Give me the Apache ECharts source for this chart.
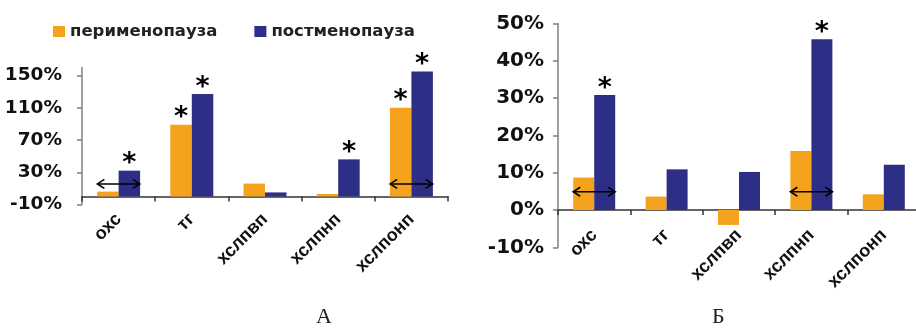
<!DOCTYPE html>
<html>
<head>
<meta charset="utf-8">
<script src="https://cdn.jsdelivr.net/npm/echarts@6/dist/echarts.min.js"></script>
<style>
  html, body { margin: 0; padding: 0; background: #fff; }
  #chart { width: 916px; height: 329px; }
</style>
</head>
<body>
<div id="chart"></div>
<script>
// Lipid indices, relative change (%)
const categories = ['охс', 'тг', 'хслпвп', 'хслпнп', 'хслпонп'];
const seriesNames = ['перименопауза', 'постменопауза'];

// Panel А
const leftPeri = [6, 89, 16, 3, 110];
const leftPost = [32, 127, 5, 46, 155];
const leftPeriSig = [false, true, false, false, true];
const leftPostSig = [true, true, false, true, true];
const leftArrows = [['охс', 15.5], ['хслпонп', 15.5]];
const leftTicks = { min: -10, max: 160, interval: 40 };

// Panel Б
const rightPeri = [8.7, 3.6, -4.0, 15.8, 4.2];
const rightPost = [30.8, 10.9, 10.2, 45.8, 12.1];
const rightPeriSig = [false, false, false, false, false];
const rightPostSig = [true, false, false, true, false];
const rightArrows = [['охс', 4.9], ['хслпнп', 4.9]];
const rightTicks = { min: -10, max: 50, interval: 10 };

const panelTitles = ['А', 'Б'];

const ORANGE = '#F5A21D';
const NAVY = '#2D2F86';
const tickFont = 'DejaVu Sans';
const catFont = 'Liberation Sans';

function starLabel(flags) {
  return {
    show: true,
    position: 'top',
    distance: -7,
    fontFamily: tickFont,
    fontWeight: 'bold',
    fontSize: 27,
    color: '#000',
    formatter: p => (flags[p.dataIndex] ? '*' : '')
  };
}

function arrowItem(params, api) {
  const c = api.coord([api.value(0), api.value(1)]);
  const half = api.size([1, 0])[0] * 0.29;
  const x0 = c[0] - half, x1 = c[0] + half, y = c[1];
  const style = { stroke: '#000', lineWidth: 1.6, fill: null };
  return {
    type: 'group',
    children: [
      { type: 'line', shape: { x1: x0, y1: y, x2: x1, y2: y }, style },
      { type: 'polyline', shape: { points: [[x0 + 7, y - 4.5], [x0, y], [x0 + 7, y + 4.5]] }, style },
      { type: 'polyline', shape: { points: [[x1 - 7, y - 4.5], [x1, y], [x1 - 7, y + 4.5]] }, style }
    ]
  };
}

function xAxisFor(gridIndex, fontSize, margin) {
  return {
    type: 'category',
    gridIndex,
    data: categories,
    axisLine: { onZero: true, lineStyle: { color: '#333', width: 1.5 } },
    axisTick: { show: true, length: 5, lineStyle: { color: '#333', width: 1.5 } },
    axisLabel: {
      interval: 0,
      rotate: 45,
      margin,
      fontFamily: catFont,
      fontWeight: 'bold',
      fontSize,
      color: '#111'
    }
  };
}

function yAxisFor(gridIndex, ticks, fontSize, margin) {
  return {
    type: 'value',
    gridIndex,
    min: ticks.min,
    max: ticks.max,
    interval: ticks.interval,
    splitLine: { show: false },
    axisLine: { show: true, lineStyle: { color: '#7f7f7f', width: 1.5 } },
    axisTick: { show: true, length: 5, lineStyle: { color: '#7f7f7f', width: 1.5 } },
    axisLabel: {
      margin,
      showMaxLabel: ticks.max % ticks.interval === (ticks.min % ticks.interval),
      fontFamily: tickFont,
      fontWeight: 'bold',
      fontSize,
      color: '#111',
      formatter: v => v + '%'
    }
  };
}

function barSeries(name, data, color, axisIndex, width, flags) {
  return {
    name,
    type: 'bar',
    xAxisIndex: axisIndex,
    yAxisIndex: axisIndex,
    data,
    barWidth: width,
    barGap: '0%',
    itemStyle: { color },
    label: starLabel(flags)
  };
}

const chart = echarts.init(document.getElementById('chart'), null, { renderer: 'canvas' });

chart.setOption({
  animation: false,
  backgroundColor: '#fff',
  legend: {
    data: seriesNames,
    left: 53,
    top: 23,
    padding: 0,
    itemWidth: 12,
    itemHeight: 11,
    itemGap: 37,
    icon: 'rect',
    textStyle: { fontFamily: tickFont, fontWeight: 'bold', fontSize: 16.5, color: '#222' }
  },
  grid: [
    { left: 82, right: 468, top: 67.5, bottom: 124.5, outerBoundsMode: 'none', containLabel: false },
    { left: 558, right: -4, top: 23.5, bottom: 81.7, outerBoundsMode: 'none', containLabel: false }
  ],
  xAxis: [xAxisFor(0, 18, 12), xAxisFor(1, 18, -15)],
  yAxis: [yAxisFor(0, leftTicks, 18.5, 20), yAxisFor(1, rightTicks, 20, 14)],
  series: [
    barSeries(seriesNames[0], leftPeri, ORANGE, 0, 21.5, leftPeriSig),
    barSeries(seriesNames[1], leftPost, NAVY, 0, 21.5, leftPostSig),
    barSeries(seriesNames[0], rightPeri, ORANGE, 1, 21, rightPeriSig),
    barSeries(seriesNames[1], rightPost, NAVY, 1, 21, rightPostSig),
    { type: 'custom', xAxisIndex: 0, yAxisIndex: 0, data: leftArrows, renderItem: arrowItem, z: 10, silent: true },
    { type: 'custom', xAxisIndex: 1, yAxisIndex: 1, data: rightArrows, renderItem: arrowItem, z: 10, silent: true }
  ],
  graphic: [
    { type: 'text', left: 316, top: 306, style: { text: panelTitles[0], font: '22px "Liberation Serif"', fill: '#222' } },
    { type: 'text', left: 712, top: 306, style: { text: panelTitles[1], font: '22px "Liberation Serif"', fill: '#222' } }
  ]
});
</script>
</body>
</html>
